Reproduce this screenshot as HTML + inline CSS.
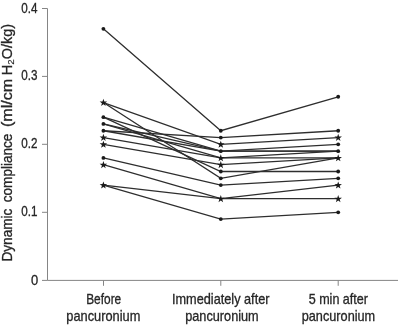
<!DOCTYPE html>
<html><head><meta charset="utf-8"><style>
html,body{margin:0;padding:0;background:#fff;}
body{width:400px;height:327px;overflow:hidden;position:relative;}
svg{position:absolute;left:0;top:0;will-change:transform;filter:blur(0.35px);}
text{font-family:"Liberation Sans",sans-serif;font-size:14.6px;fill:#262626;stroke:#262626;stroke-width:0.32px;}
</style></head><body>
<svg width="400" height="327" viewBox="0 0 400 327">
<g stroke="#858585" stroke-width="1" fill="none">
<path d="M42,8.5H47.5V280.4H398"/>
<path d="M42,76.4H47.5M42,144.3H47.5M42,212.3H47.5M42,280.4H47.5"/>
<path d="M103.5,280.4V285.8M220.8,280.4V285.8M338.2,280.4V285.8"/>
</g>
<polyline points="103.40,28.80 220.80,130.74 338.20,96.76" fill="none" stroke="#2e2e2e" stroke-width="1.3"/>
<polyline points="103.40,102.53 220.80,144.33 338.20,137.53" fill="none" stroke="#2e2e2e" stroke-width="1.3"/>
<polyline points="103.40,102.53 220.80,178.31 338.20,157.92" fill="none" stroke="#2e2e2e" stroke-width="1.3"/>
<polyline points="103.40,117.15 220.80,151.13 338.20,144.33" fill="none" stroke="#2e2e2e" stroke-width="1.3"/>
<polyline points="103.40,117.15 220.80,171.51 338.20,171.51" fill="none" stroke="#2e2e2e" stroke-width="1.3"/>
<polyline points="103.40,123.94 220.80,151.13 338.20,151.13" fill="none" stroke="#2e2e2e" stroke-width="1.3"/>
<polyline points="103.40,130.74 220.80,137.53 338.20,130.74" fill="none" stroke="#2e2e2e" stroke-width="1.3"/>
<polyline points="103.40,130.74 220.80,151.13 338.20,151.13" fill="none" stroke="#2e2e2e" stroke-width="1.3"/>
<polyline points="103.40,123.94 220.80,157.92 338.20,151.13" fill="none" stroke="#2e2e2e" stroke-width="1.3"/>
<polyline points="103.40,137.53 220.80,157.92 338.20,157.92" fill="none" stroke="#2e2e2e" stroke-width="1.3"/>
<polyline points="103.40,144.33 220.80,164.72 338.20,157.92" fill="none" stroke="#2e2e2e" stroke-width="1.3"/>
<polyline points="103.40,157.92 220.80,185.11 338.20,178.31" fill="none" stroke="#2e2e2e" stroke-width="1.3"/>
<polyline points="103.40,164.72 220.80,198.70 338.20,185.11" fill="none" stroke="#2e2e2e" stroke-width="1.3"/>
<polyline points="103.40,185.11 220.80,198.70 338.20,198.70" fill="none" stroke="#2e2e2e" stroke-width="1.3"/>
<polyline points="103.40,185.11 220.80,219.09 338.20,212.29" fill="none" stroke="#2e2e2e" stroke-width="1.3"/>
<circle cx="103.40" cy="157.92" r="1.9" fill="#1a1a1a"/>
<circle cx="103.40" cy="130.74" r="1.9" fill="#1a1a1a"/>
<circle cx="103.40" cy="123.94" r="1.9" fill="#1a1a1a"/>
<circle cx="103.40" cy="117.15" r="1.9" fill="#1a1a1a"/>
<circle cx="103.40" cy="28.80" r="1.9" fill="#1a1a1a"/>
<circle cx="220.80" cy="219.09" r="1.9" fill="#1a1a1a"/>
<circle cx="220.80" cy="185.11" r="1.9" fill="#1a1a1a"/>
<circle cx="220.80" cy="178.31" r="1.9" fill="#1a1a1a"/>
<circle cx="220.80" cy="171.51" r="1.9" fill="#1a1a1a"/>
<circle cx="220.80" cy="151.13" r="1.9" fill="#1a1a1a"/>
<circle cx="220.80" cy="137.53" r="1.9" fill="#1a1a1a"/>
<circle cx="220.80" cy="130.74" r="1.9" fill="#1a1a1a"/>
<circle cx="338.20" cy="212.29" r="1.9" fill="#1a1a1a"/>
<circle cx="338.20" cy="178.31" r="1.9" fill="#1a1a1a"/>
<circle cx="338.20" cy="171.51" r="1.9" fill="#1a1a1a"/>
<circle cx="338.20" cy="151.13" r="1.9" fill="#1a1a1a"/>
<circle cx="338.20" cy="144.33" r="1.9" fill="#1a1a1a"/>
<circle cx="338.20" cy="130.74" r="1.9" fill="#1a1a1a"/>
<circle cx="338.20" cy="96.76" r="1.9" fill="#1a1a1a"/>
<polygon points="103.40,181.41 104.31,184.10 107.16,184.14 104.87,185.83 105.72,188.55 103.40,186.91 101.08,188.55 101.93,185.83 99.64,184.14 102.49,184.10" fill="#1a1a1a"/>
<polygon points="103.40,161.02 104.31,163.71 107.16,163.75 104.87,165.45 105.72,168.16 103.40,166.52 101.08,168.16 101.93,165.45 99.64,163.75 102.49,163.71" fill="#1a1a1a"/>
<polygon points="103.40,140.63 104.31,143.33 107.16,143.36 104.87,145.06 105.72,147.78 103.40,146.13 101.08,147.78 101.93,145.06 99.64,143.36 102.49,143.33" fill="#1a1a1a"/>
<polygon points="103.40,133.83 104.31,136.53 107.16,136.56 104.87,138.26 105.72,140.98 103.40,139.33 101.08,140.98 101.93,138.26 99.64,136.56 102.49,136.53" fill="#1a1a1a"/>
<polygon points="103.40,98.83 104.31,101.53 107.16,101.56 104.87,103.26 105.72,105.98 103.40,104.33 101.08,105.98 101.93,103.26 99.64,101.56 102.49,101.53" fill="#1a1a1a"/>
<polygon points="220.80,195.00 221.71,197.69 224.56,197.73 222.27,199.43 223.12,202.14 220.80,200.50 218.48,202.14 219.33,199.43 217.04,197.73 219.89,197.69" fill="#1a1a1a"/>
<polygon points="220.80,161.02 221.71,163.71 224.56,163.75 222.27,165.45 223.12,168.16 220.80,166.52 218.48,168.16 219.33,165.45 217.04,163.75 219.89,163.71" fill="#1a1a1a"/>
<polygon points="220.80,154.22 221.71,156.92 224.56,156.95 222.27,158.65 223.12,161.37 220.80,159.72 218.48,161.37 219.33,158.65 217.04,156.95 219.89,156.92" fill="#1a1a1a"/>
<polygon points="220.80,140.63 221.71,143.33 224.56,143.36 222.27,145.06 223.12,147.78 220.80,146.13 218.48,147.78 219.33,145.06 217.04,143.36 219.89,143.33" fill="#1a1a1a"/>
<polygon points="338.20,195.00 339.11,197.69 341.96,197.73 339.67,199.43 340.52,202.14 338.20,200.50 335.88,202.14 336.73,199.43 334.44,197.73 337.29,197.69" fill="#1a1a1a"/>
<polygon points="338.20,181.41 339.11,184.10 341.96,184.14 339.67,185.83 340.52,188.55 338.20,186.91 335.88,188.55 336.73,185.83 334.44,184.14 337.29,184.10" fill="#1a1a1a"/>
<polygon points="338.20,154.22 339.11,156.92 341.96,156.95 339.67,158.65 340.52,161.37 338.20,159.72 335.88,161.37 336.73,158.65 334.44,156.95 337.29,156.92" fill="#1a1a1a"/>
<polygon points="338.20,133.83 339.11,136.53 341.96,136.56 339.67,138.26 340.52,140.98 338.20,139.33 335.88,140.98 336.73,138.26 334.44,136.56 337.29,136.53" fill="#1a1a1a"/>
<g lengthAdjust="spacingAndGlyphs">
<text x="21.3" y="12.5" textLength="16.2" lengthAdjust="spacingAndGlyphs">0.4</text>
<text x="21.3" y="80.4" textLength="16.2" lengthAdjust="spacingAndGlyphs">0.3</text>
<text x="21.3" y="148.3" textLength="16.2" lengthAdjust="spacingAndGlyphs">0.2</text>
<text x="21.3" y="216.3" textLength="16.2" lengthAdjust="spacingAndGlyphs">0.1</text>
<text x="31" y="284.8" textLength="7.2" lengthAdjust="spacingAndGlyphs">0</text>
<text x="86.2" y="304" textLength="35" lengthAdjust="spacingAndGlyphs">Before</text>
<text x="66.3" y="321" textLength="74" lengthAdjust="spacingAndGlyphs">pancuronium</text>
<text x="172" y="304" textLength="97.5" lengthAdjust="spacingAndGlyphs">Immediately after</text>
<text x="185.2" y="321" textLength="73.5" lengthAdjust="spacingAndGlyphs">pancuronium</text>
<text x="308.7" y="304" textLength="59.3" lengthAdjust="spacingAndGlyphs">5 min after</text>
<text x="301.7" y="321" textLength="73.5" lengthAdjust="spacingAndGlyphs">pancuronium</text>
<text transform="translate(11.9,261.6) rotate(-90)" textLength="53" lengthAdjust="spacingAndGlyphs">Dynamic</text>
<text transform="translate(11.9,202.2) rotate(-90)" textLength="68.6" lengthAdjust="spacingAndGlyphs">compliance</text>
<text transform="translate(11.9,127) rotate(-90)" textLength="48" lengthAdjust="spacingAndGlyphs">(ml/cm</text>
<text transform="translate(11.9,75.2) rotate(-90)" textLength="51.2" lengthAdjust="spacingAndGlyphs">H<tspan font-size="9.8" stroke-width="0.15" dy="2.5">2</tspan><tspan dy="-2.5">O/kg)</tspan></text>
</g>
</svg>
</body></html>
